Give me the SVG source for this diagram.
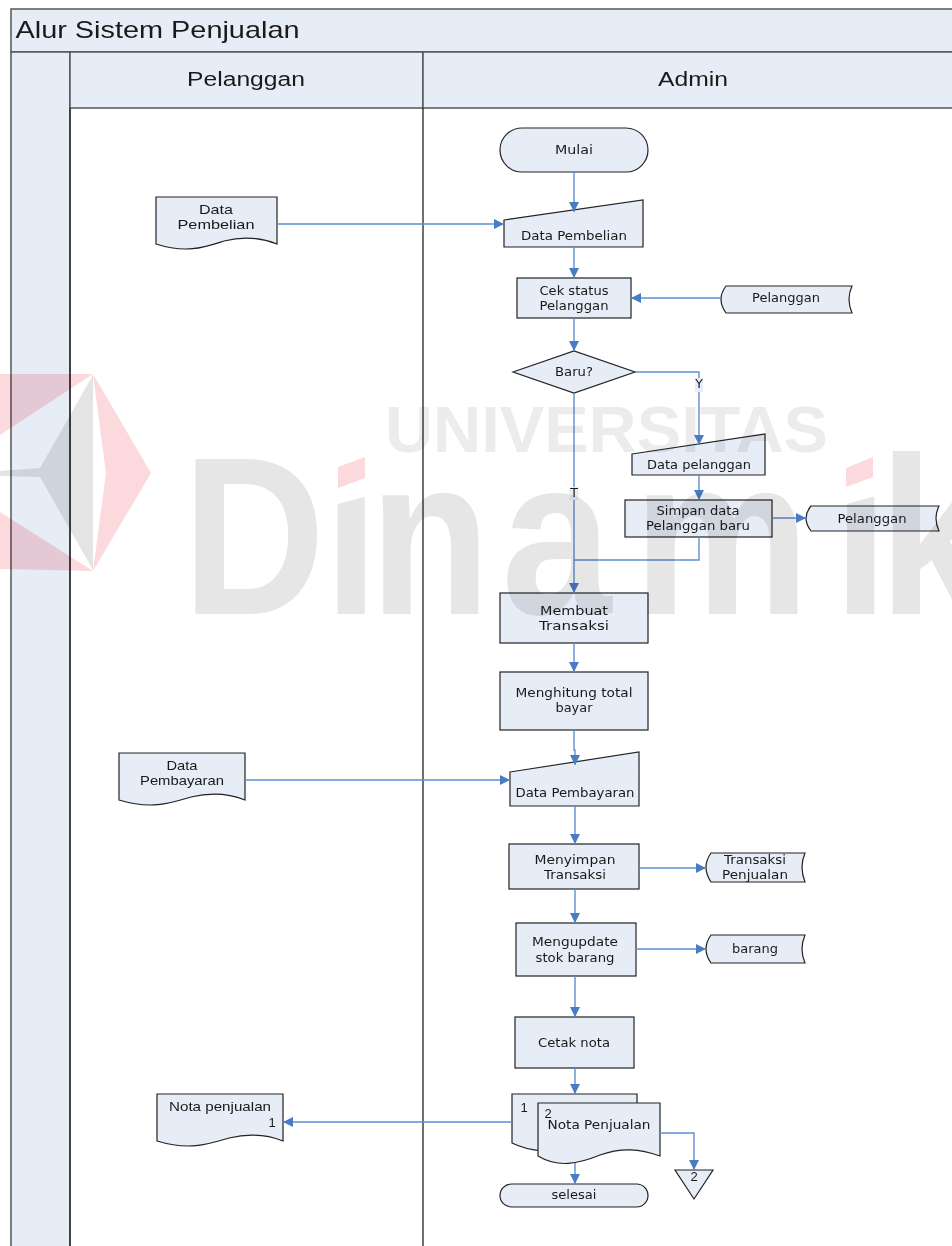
<svg xmlns="http://www.w3.org/2000/svg" width="952" height="1246" viewBox="0 0 952 1246">
<style>
.s{fill:#e7edf7;stroke:#222;stroke-width:1.2}
.f{fill:#e7edf7;stroke:#555;stroke-width:1.5}
.v{stroke:#222;stroke-width:1.3;fill:none}
.c{fill:none;stroke:#5f8ed2;stroke-width:1.4;marker-end:url(#a)}
.n{fill:none;stroke:#5f8ed2;stroke-width:1.4}
text{font-family:"DejaVu Sans","Liberation Sans",sans-serif;font-size:12.6px;fill:#1a1a1a;text-anchor:middle}
.h{font-family:"Liberation Sans",Arial,sans-serif;font-size:20px}
.d{font-family:"Liberation Sans",Arial,sans-serif;font-size:13px}
.t{font-size:24px;text-anchor:start}
.wm{font-family:"Liberation Sans",Arial,sans-serif;font-weight:bold;text-anchor:start}
.wu{font-size:65px;fill:#ececec}
.wd{font-size:225px;fill:#e6e6e6}
</style>
<defs>
<marker id="a" markerUnits="userSpaceOnUse" markerWidth="12" markerHeight="12" refX="10" refY="6" orient="auto"><path d="M0 1 L10 6 L0 11 Z" fill="#4a7cc4"/></marker>
</defs>
<rect width="952" height="1246" fill="#fff"/>
<g id="swimlane">
<rect class="f" x="11" y="9" width="945" height="43"/>
<rect class="f" x="11" y="52" width="59" height="1200"/>
<rect class="f" x="70" y="52" width="353" height="56"/>
<rect class="f" x="423" y="52" width="533" height="56"/>
<path class="v" d="M70 108V1246M423 108V1246"/>
<text class="h t" x="15.500" y="38" textLength="284" lengthAdjust="spacingAndGlyphs">Alur Sistem Penjualan</text>
<text class="h" x="246" y="86" textLength="118" lengthAdjust="spacingAndGlyphs">Pelanggan</text>
<text class="h" x="693" y="86" textLength="70" lengthAdjust="spacingAndGlyphs">Admin</text>
</g>
<g id="doc-data-pembelian"><path class="s" d="M156 197H277V244C262 238 244 236 224 241C205 247 187 254 156 244Z"/><text class="d" x="216" y="214" textLength="34" lengthAdjust="spacingAndGlyphs">Data</text><text class="d" x="216" y="229" textLength="77" lengthAdjust="spacingAndGlyphs">Pembelian</text></g>
<g id="mulai"><rect class="s" x="500" y="128" width="148" height="44" rx="22"/><text x="574" y="154" textLength="38" lengthAdjust="spacingAndGlyphs">Mulai</text></g>
<g id="input-data-pembelian"><path class="s" d="M504 220L643 200V247H504Z"/><text x="574" y="240" textLength="106" lengthAdjust="spacingAndGlyphs">Data Pembelian</text></g>
<g id="cek-status"><rect class="s" x="517" y="278" width="114" height="40"/><text x="574" y="295" textLength="69" lengthAdjust="spacingAndGlyphs">Cek status</text><text x="574" y="310" textLength="69" lengthAdjust="spacingAndGlyphs">Pelanggan</text></g>
<g id="store-pelanggan-1"><path class="s" d="M726 286H852Q846 299 852 313H726Q716 299 726 286Z"/><text x="786" y="302" textLength="68" lengthAdjust="spacingAndGlyphs">Pelanggan</text></g>
<g id="baru"><path class="s" d="M513 372L574 351L635 372L574 393Z"/><text x="574" y="376" textLength="38" lengthAdjust="spacingAndGlyphs">Baru?</text></g>
<g id="input-data-pelanggan"><path class="s" d="M632 454L765 434V475H632Z"/><text x="699" y="469" textLength="104" lengthAdjust="spacingAndGlyphs">Data pelanggan</text></g>
<g id="simpan"><rect class="s" x="625" y="500" width="147" height="37"/><text x="698" y="515" textLength="83" lengthAdjust="spacingAndGlyphs">Simpan data</text><text x="698" y="530" textLength="104" lengthAdjust="spacingAndGlyphs">Pelanggan baru</text></g>
<g id="store-pelanggan-2"><path class="s" d="M811 506H939Q933 518 939 531H811Q801 518 811 506Z"/><text x="872" y="523" textLength="69" lengthAdjust="spacingAndGlyphs">Pelanggan</text></g>
<g id="membuat"><rect class="s" x="500" y="593" width="148" height="50"/><text x="574" y="615" textLength="68" lengthAdjust="spacingAndGlyphs">Membuat</text><text x="574" y="630" textLength="70" lengthAdjust="spacingAndGlyphs">Transaksi</text></g>
<g id="menghitung"><rect class="s" x="500" y="672" width="148" height="58"/><text x="574" y="697" textLength="117" lengthAdjust="spacingAndGlyphs">Menghitung total</text><text x="574" y="712" textLength="37" lengthAdjust="spacingAndGlyphs">bayar</text></g>
<g id="doc-data-pembayaran"><path class="s" d="M119 753H245V800C230 794 212 792 191 797C171 803 152 810 119 800Z"/><text class="d" x="182" y="770" textLength="31" lengthAdjust="spacingAndGlyphs">Data</text><text class="d" x="182" y="785" textLength="84" lengthAdjust="spacingAndGlyphs">Pembayaran</text></g>
<g id="input-data-pembayaran"><path class="s" d="M510 772L639 752V806H510Z"/><text x="575" y="797" textLength="119" lengthAdjust="spacingAndGlyphs">Data Pembayaran</text></g>
<g id="menyimpan"><rect class="s" x="509" y="844" width="130" height="45"/><text x="575" y="864" textLength="81" lengthAdjust="spacingAndGlyphs">Menyimpan</text><text x="575" y="879" textLength="62" lengthAdjust="spacingAndGlyphs">Transaksi</text></g>
<g id="store-transaksi"><path class="s" d="M711 853H805Q799 867 805 882H711Q701 867 711 853Z"/><text x="755" y="864" textLength="62" lengthAdjust="spacingAndGlyphs">Transaksi</text><text x="755" y="879" textLength="66" lengthAdjust="spacingAndGlyphs">Penjualan</text></g>
<g id="mengupdate"><rect class="s" x="516" y="923" width="120" height="53"/><text x="575" y="946" textLength="86" lengthAdjust="spacingAndGlyphs">Mengupdate</text><text x="575" y="962" textLength="79" lengthAdjust="spacingAndGlyphs">stok barang</text></g>
<g id="store-barang"><path class="s" d="M711 935H805Q799 949 805 963H711Q701 949 711 935Z"/><text x="755" y="953" textLength="46" lengthAdjust="spacingAndGlyphs">barang</text></g>
<g id="cetak"><rect class="s" x="515" y="1017" width="119" height="51"/><text x="574" y="1047" textLength="72" lengthAdjust="spacingAndGlyphs">Cetak nota</text></g>
<g id="doc-nota"><path class="s" d="M157 1094H283V1141C268 1135 250 1133 229 1138C209 1144 190 1151 157 1141Z"/><text class="d" x="220" y="1111" textLength="102" lengthAdjust="spacingAndGlyphs">Nota penjualan</text><text class="d" x="272" y="1127">1</text></g>
<g id="nota-1"><path class="s" d="M512 1094H637V1143C615 1140 595 1144 575 1150C555 1153 530 1152 512 1143Z"/><text class="d" x="524" y="1112">1</text></g>
<g id="nota-2"><path class="s" d="M538 1103H660V1156C640 1149 622 1147 600 1155C578 1164 558 1168 538 1156Z"/><text class="d" x="548" y="1118">2</text><text x="599" y="1129" textLength="103" lengthAdjust="spacingAndGlyphs">Nota Penjualan</text></g>
<g id="selesai"><rect class="s" x="500" y="1184" width="148" height="23" rx="11.500"/><text x="574" y="1199" textLength="45" lengthAdjust="spacingAndGlyphs">selesai</text></g>
<g id="off-page"><path class="s" d="M675 1170H713L694 1199Z"/><text class="d" x="694" y="1181">2</text></g>
<g id="connectors">
<path class="c" d="M574 172V212"/>
<path class="c" d="M277 224H504"/>
<path class="c" d="M574 247V278"/>
<path class="c" d="M721 298H631"/>
<path class="c" d="M574 318V351"/>
<path class="c" d="M635 372H699V445"/>
<path class="c" d="M574 393V593"/>
<path class="c" d="M699 475V500"/>
<path class="c" d="M772 518H806"/>
<path class="n" d="M699 537V560H574"/>
<path class="c" d="M574 643V672"/>
<path class="c" d="M574 730V750H575V765"/>
<path class="c" d="M245 780H510"/>
<path class="c" d="M575 806V844"/>
<path class="c" d="M639 868H706"/>
<path class="c" d="M575 889V923"/>
<path class="c" d="M636 949H706"/>
<path class="c" d="M575 976V1017"/>
<path class="c" d="M575 1068V1094"/>
<path class="c" d="M512 1122H283"/>
<path class="c" d="M575 1163V1184"/>
<path class="c" d="M660 1133H694V1170"/>
<rect x="695" y="378" width="8" height="14" fill="#e7edf7"/>
<rect x="569.500" y="487" width="9" height="13" fill="#e7edf7"/>
<text x="699" y="388">Y</text>
<text x="574" y="497">T</text>
</g>
<g id="watermark" style="mix-blend-mode:multiply">
<path fill="#fcd9dc" d="M0 374H93L0 435ZM0 512L93 571L0 569ZM93 374L151 473L93 571L106 473Z"/>
<path fill="#e4e4e4" d="M93 375L40 468L0 471V476L40 477L93 570Z"/>
<text class="wm wu" x="385" y="452" textLength="443" lengthAdjust="spacingAndGlyphs">UNIVERSITAS</text>
<text class="wm wd" y="614" transform="scale(.88 1)" x="207 368 420 570 720 947 999">Dinamik</text>
<path fill="#fff" d="M330 445H375V494L338 504H330ZM838 445H883V494L846 504H838Z"/>
<path fill="#fcd9dc" d="M338 467L365 457V478L338 488ZM846 468L873 457V477L846 487Z"/>
</g>
</svg>
